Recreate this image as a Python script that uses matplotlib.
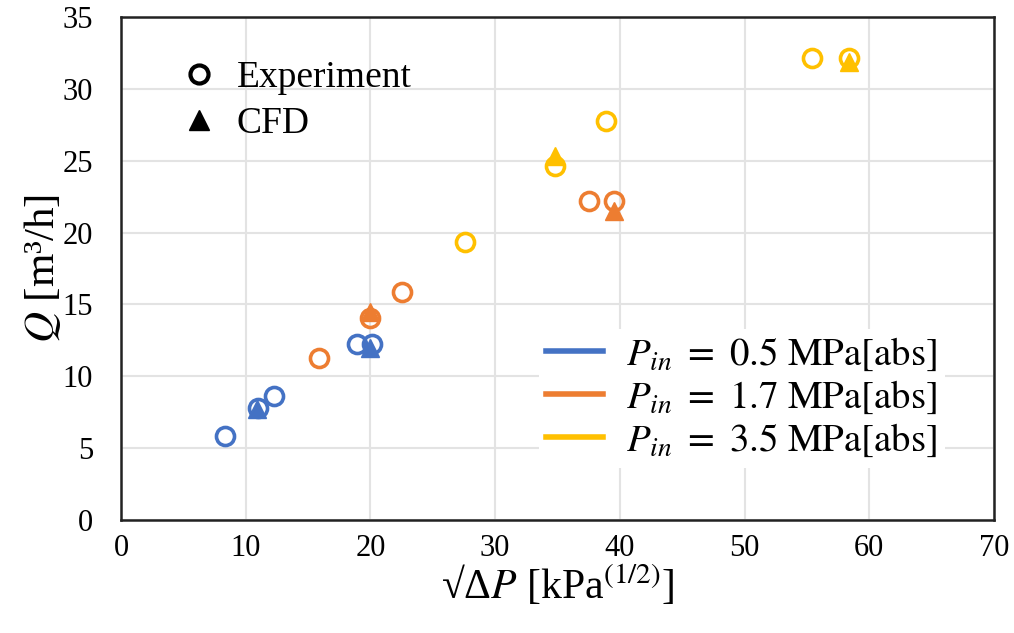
import numpy as np
import matplotlib.pyplot as plt
from matplotlib.lines import Line2D

plt.rcParams['font.family'] = ['Liberation Serif', 'DejaVu Serif']
plt.rcParams['mathtext.fontset'] = 'stix'

colors = ['#4472C4', '#ED7D31', '#FFC000']
labels = [r'$P_{in}\ =\ 0.5\ \mathrm{MPa[abs]}$',
          r'$P_{in}\ =\ 1.7\ \mathrm{MPa[abs]}$',
          r'$P_{in}\ =\ 3.5\ \mathrm{MPa[abs]}$']

# experiment
exp_x = [[8.3, 11.0, 12.3, 18.9, 20.1],
         [15.9, 20.0, 22.5, 37.5, 39.5],
         [27.6, 34.8, 38.9, 55.4, 58.4]]
exp_y = [[5.85, 7.8, 8.6, 12.25, 12.25],
         [11.25, 14.05, 15.85, 22.2, 22.2],
         [19.35, 24.65, 27.75, 32.15, 32.15]]
# CFD
cfd_x = [[10.9, 20.0], [20.0, 39.5], [34.8, 58.4]]
cfd_y = [[7.7, 11.95], [14.45, 21.5], [25.35, 31.85]]

fig = plt.figure(figsize=(10.14, 6.33), dpi=100)
ax = fig.add_axes([121/1014, 113/633, 873/1014, 503/633])

for i in range(3):
    ax.plot(exp_x[i], exp_y[i], 'o', ms=13, mfc='none', mec=colors[i], mew=2.6, zorder=3)
    ax.plot(cfd_x[i], cfd_y[i], '^', ms=13, color=colors[i], zorder=3)

ax.set_xlim(0, 70)
ax.set_ylim(0, 35)
ax.set_xticks(np.arange(0, 71, 10))
ax.set_yticks(np.arange(0, 36, 5))
ax.grid(color='#e3e3e3', lw=1.5)
ax.set_axisbelow(True)
for s in ax.spines.values():
    s.set_linewidth(1.8)
    s.set_color('#222222')
ax.tick_params(length=0, labelsize=22, colors='black')
ax.tick_params(axis='x', pad=10)
ax.tick_params(axis='y', pad=20)

ax.set_xlabel('√Δ$P$ [kPa$^{(1/2)}$]', fontsize=30, labelpad=0)
ax.set_ylabel('$Q$ [m³/h]', fontsize=31, labelpad=0)

h1 = [Line2D([], [], marker='o', ls='none', ms=13, mfc='none', mec='black', mew=3),
      Line2D([], [], marker='^', ls='none', ms=14, color='black')]
leg1 = ax.legend(h1, ['Experiment', 'CFD'], loc='upper left', bbox_to_anchor=(0.025, 0.98),
                 frameon=False, fontsize=27, handletextpad=0.4, labelspacing=0.3,
                 handlelength=1.2)
ax.add_artist(leg1)

h2 = [Line2D([], [], color=c, lw=4) for c in colors]
leg2 = ax.legend(h2, labels, loc='lower right', bbox_to_anchor=(0.966, 0.065), fontsize=28,
                 frameon=True, facecolor='white', edgecolor='none', framealpha=1,
                 handlelength=1.45, handletextpad=0.6, labelspacing=0.15, borderpad=0.2)

fig.savefig('out.png', dpi=100)
